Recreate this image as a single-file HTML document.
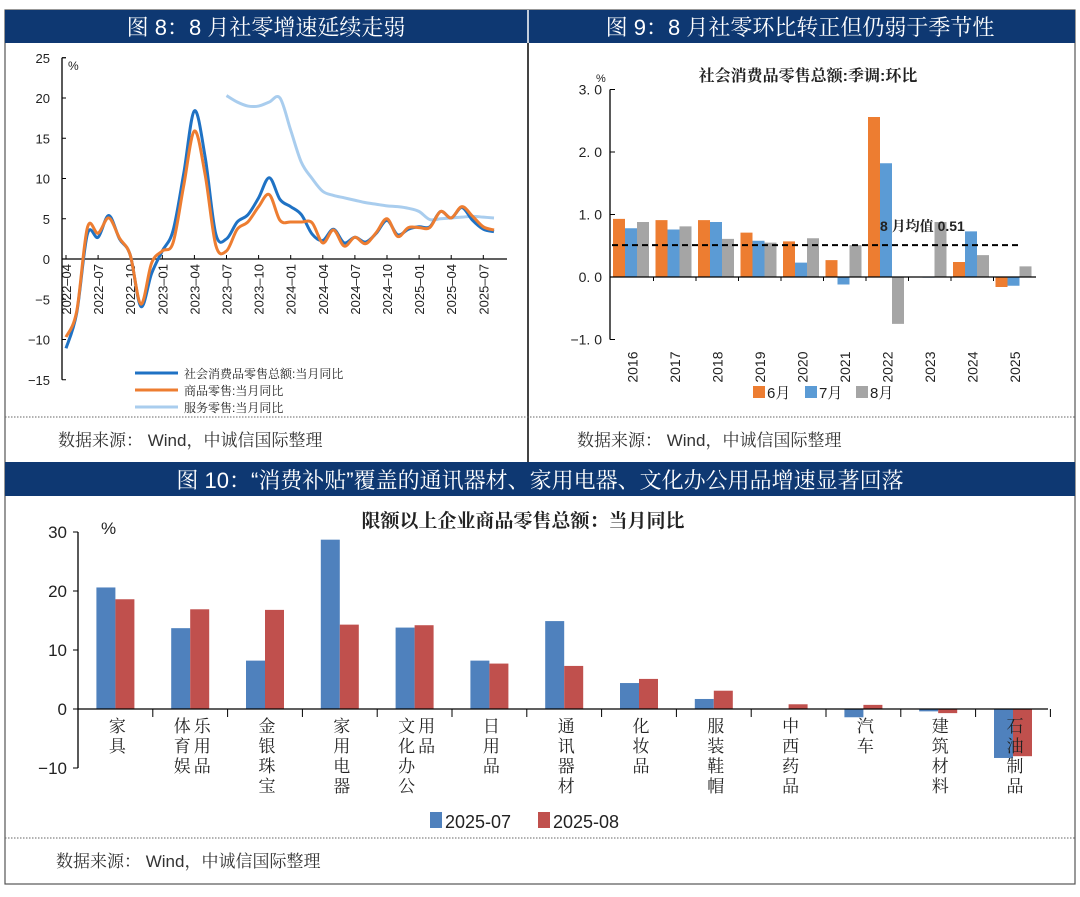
<!DOCTYPE html>
<html><head><meta charset="utf-8">
<style>
body{margin:0;background:#fff;width:1080px;height:892px;overflow:hidden;font-family:"Liberation Sans","Noto Sans CJK SC",sans-serif;}
svg text{font-family:"Liberation Sans","Noto Serif CJK SC","Noto Sans CJK SC",sans-serif;}
</style></head><body>
<svg id="root" width="1080" height="892" xmlns="http://www.w3.org/2000/svg">
  <!-- frames -->
  <rect x="5" y="10" width="1070" height="874" fill="none" stroke="#555" stroke-width="1.2"/>
  <line x1="528" y1="10" x2="528" y2="462" stroke="#444" stroke-width="2"/>
  <rect x="5" y="10" width="1070" height="33" fill="#0e3872"/>
  <line x1="528" y1="10" x2="528" y2="43" stroke="#fff" stroke-width="1.5"/>
  <text x="266" y="35" text-anchor="middle" font-size="22" fill="#fff">图 8：8 月社零增速延续走弱</text>
  <text x="800" y="35" text-anchor="middle" font-size="22" fill="#fff">图 9：8 月社零环比转正但仍弱于季节性</text>
  <line x1="5" y1="417" x2="1075" y2="417" stroke="#666" stroke-dasharray="1.5 1.5"/>
  <text x="58" y="446" font-size="17" fill="#333">数据来源：  Wind，中诚信国际整理</text>
  <text x="577" y="446" font-size="17" fill="#333">数据来源：  Wind，中诚信国际整理</text>
  <rect x="5" y="462" width="1070" height="34" fill="#0e3872"/>
  <text x="540" y="488" text-anchor="middle" font-size="22" fill="#fff">图 10：“消费补贴”覆盖的通讯器材、家用电器、文化办公用品增速显著回落</text>
  <line x1="5" y1="838" x2="1075" y2="838" stroke="#666" stroke-dasharray="1.5 1.5"/>
  <text x="56" y="867" font-size="17" fill="#333">数据来源：  Wind，中诚信国际整理</text>
  <g id="c1"></g><g id="c2"></g><g id="c3"></g>
</svg>
<script>
const NS="http://www.w3.org/2000/svg";
function mk(parent,tag,attrs,txt){const e=document.createElementNS(NS,tag);for(const k in attrs)e.setAttribute(k,attrs[k]);if(txt!==undefined)e.textContent=txt;parent.appendChild(e);return e;}

// ===== Chart 1 data =====
const c1Months=["2022-04","2022-05","2022-06","2022-07","2022-08","2022-09","2022-10","2022-11","2022-12","2023-01","2023-02","2023-03","2023-04","2023-05","2023-06","2023-07","2023-08","2023-09","2023-10","2023-11","2023-12","2024-01","2024-02","2024-03","2024-04","2024-05","2024-06","2024-07","2024-08","2024-09","2024-10","2024-11","2024-12","2025-01","2025-02","2025-03","2025-04","2025-05","2025-06","2025-07","2025-08"];
const c1Total=[-11.1,-6.7,3.1,2.7,5.4,2.5,0.5,-5.9,-1.8,1.0,3.5,10.6,18.4,12.7,3.1,2.5,4.6,5.5,7.6,10.1,7.4,6.5,5.5,3.1,2.3,3.7,2.0,2.7,2.1,3.2,4.8,3.0,3.7,4.0,4.0,5.9,5.1,6.4,4.8,3.7,3.4];
const c1Goods=[-9.7,-6.5,3.9,3.2,5.1,2.6,0.5,-5.6,-0.5,1.0,2.0,9.1,15.9,10.5,1.7,1.0,3.7,4.6,6.5,8.0,4.8,4.6,4.6,4.5,2.0,3.6,1.6,2.7,1.9,3.3,5.0,2.8,3.9,3.9,3.9,5.9,5.1,6.5,5.3,4.0,3.6];
const c1Services=[null,null,null,null,null,null,null,null,null,null,null,null,null,null,null,20.3,19.5,19.0,19.0,19.5,20.0,16.0,12.0,10.0,8.4,7.9,7.6,7.3,7.0,6.8,6.6,6.5,6.3,5.9,4.9,5.0,5.1,5.2,5.3,5.2,5.1];
const c1YTicks=[25,20,15,10,5,0,-5,-10,-15];
const c1XTicks=["2022-04","2022-07","2022-10","2023-01","2023-04","2023-07","2023-10","2024-01","2024-04","2024-07","2024-10","2025-01","2025-04","2025-07"];

(function(){
  const g=document.getElementById('c1');
  const x=i=>66+i*10.7, y=v=>259-v*8.05;
  c1YTicks.forEach(t=>{
    const tl=mk(g,'line',{x1:62,x2:66,y1:y(t),y2:y(t),stroke:'#000'});
    
    
    const lb=mk(g,'text',{x:50,y:y(t)+5,'text-anchor':'end','font-size':13,fill:'#222'},String(t).replace('-','−'));
    
    
  });
  const ax=mk(g,'line',{x1:62,x2:62,y1:y(25),y2:y(-15),stroke:'#000','stroke-width':1.3});
  
  
  mk(g,'line',{x1:62,x2:66,y1:y(25),y2:y(25),stroke:'#000'});
  const pc=mk(g,'text',{x:68,y:y(25)+12,'font-size':12,fill:'#222'},'%');
  
  
  const xa=mk(g,'line',{x1:62,x2:507,y1:y(0),y2:y(0),stroke:'#000','stroke-width':1.3});
  
  
  c1XTicks.forEach(m=>{
    const i=c1Months.indexOf(m), px=x(i);
    mk(g,'line',{x1:px,x2:px,y1:y(0),y2:y(0)-4,stroke:'#000'});
    const t=mk(g,'text',{x:0,y:0,'font-size':13,fill:'#222','text-anchor':'end',transform:`translate(${px+5},${y(0)+5}) rotate(-90)`},m.replace('-','–'));
    
    
  });
  function path(arr){
    const pts=[];arr.forEach((v,i)=>{if(v!==null)pts.push([x(i),y(v)]);});
    let d=`M${pts[0][0]},${pts[0][1]}`;
    for(let i=0;i<pts.length-1;i++){
      const p0=pts[i-1]||pts[i],p1=pts[i],p2=pts[i+1],p3=pts[i+2]||p2;
      const c1=[p1[0]+(p2[0]-p0[0])/6,p1[1]+(p2[1]-p0[1])/6],c2=[p2[0]-(p3[0]-p1[0])/6,p2[1]-(p3[1]-p1[1])/6];
      d+=` C${c1[0]},${c1[1]} ${c2[0]},${c2[1]} ${p2[0]},${p2[1]}`;
    }
    return d;
  }
  const s3=mk(g,'path',{d:path(c1Services),fill:'none',stroke:'#a9cdee','stroke-width':3});
  
  
  const s1=mk(g,'path',{d:path(c1Total),fill:'none',stroke:'#1f72c4','stroke-width':3});
  
  
  const s2=mk(g,'path',{d:path(c1Goods),fill:'none',stroke:'#ed7d31','stroke-width':3});
  
  
  const leg=[['社会消费品零售总额:当月同比','#1f72c4'],['商品零售:当月同比','#ed7d31'],['服务零售:当月同比','#a9cdee']];
  leg.forEach((l,k)=>{
    const yy=373+k*17;
    const li=mk(g,'line',{x1:135,x2:178,y1:yy,y2:yy,stroke:l[1],'stroke-width':3});
    
    
    const t=mk(g,'text',{x:184,y:yy+5,'font-size':12,fill:'#222'},l[0]);
    
    
  });
})();

// ===== Chart 2 data =====
const c2Years=["2016","2017","2018","2019","2020","2021","2022","2023","2024","2025"];
const c2Jun=[0.93,0.91,0.91,0.71,0.57,0.27,2.56,0.0,0.24,-0.16];
const c2Jul=[0.78,0.76,0.88,0.58,0.23,-0.12,1.82,-0.01,0.73,-0.14];
const c2Aug=[0.88,0.81,0.61,0.55,0.62,0.51,-0.75,0.88,0.35,0.17];
const c2Mean=[0.51];
const c2YTicks=[3.0,2.0,1.0,0.0,-1.0];

(function(){
  const g=document.getElementById('c2');
  const y=v=>277-v*62.5, gw=42.5, x0=611, bw=12;
  const tt=mk(g,'text',{x:808,y:81,'text-anchor':'middle','font-size':16,'font-weight':'bold',fill:'#222'},'社会消费品零售总额:季调:环比');
  
  
  c2YTicks.forEach(t=>{
    mk(g,'line',{x1:610,x2:615,y1:y(t),y2:y(t),stroke:'#000'});
    const lb=mk(g,'text',{x:602,y:y(t)+5,'text-anchor':'end','font-size':14,fill:'#222'},(t<0?'−':'')+Math.abs(t).toFixed(1).replace('.','. '));
    
    
  });
  const pu=mk(g,'text',{x:596,y:82,'font-size':11,fill:'#222'},'%');
  
  
  const ya=mk(g,'line',{x1:610,x2:610,y1:y(3),y2:y(-1),stroke:'#000','stroke-width':1.3});
  
  
  const series=[[c2Jun,'#ed7d31','jun'],[c2Jul,'#5b9bd5','jul'],[c2Aug,'#a5a5a5','aug']];
  c2Years.forEach((yr,i)=>{
    series.forEach((s,k)=>{
      const v=s[0][i], bx=x0+i*gw+2+k*bw;
      const r=mk(g,'rect',{x:bx,y:Math.min(y(v),y(0)),width:bw,height:Math.max(Math.abs(y(v)-y(0)),0.5),fill:s[1]});
      
      
    });
    const cx=x0+i*gw+gw/2;
    const t=mk(g,'text',{'font-size':14,fill:'#222','text-anchor':'end',transform:`translate(${cx+5},${y(-1)+12}) rotate(-90)`},yr);
    
    
    if(i>0)mk(g,'line',{x1:x0+i*gw,x2:x0+i*gw,y1:y(0),y2:y(0)+4,stroke:'#000'});
  });
  const xa=mk(g,'line',{x1:610,x2:1036,y1:y(0),y2:y(0),stroke:'#000','stroke-width':1.3});
  
  
  const ml=mk(g,'line',{x1:612,x2:1022,y1:y(c2Mean[0]),y2:y(c2Mean[0]),stroke:'#000','stroke-width':2,'stroke-dasharray':'6 4'});
  
  
  const ll=mk(g,'text',{x:880,y:231,'font-size':14,'font-weight':'bold',fill:'#222'},'8 月均值 0.51');
  
  
  [['6月','#ed7d31',753],['7月','#5b9bd5',805],['8月','#a5a5a5',856]].forEach(l=>{
    const r=mk(g,'rect',{x:l[2],y:386,width:12,height:12,fill:l[1]});
    
    
    const t=mk(g,'text',{x:l[2]+14,y:398,'font-size':15,fill:'#222'},l[0]);
    
    
  });
})();

// ===== Chart 3 data =====
const c3Cats=[["家具"],["体育娱","乐用品"],["金银珠宝"],["家用电器"],["文化办公","用品"],["日用品"],["通讯器材"],["化妆品"],["服装鞋帽"],["中西药品"],["汽车"],["建筑材料"],["石油制品"]];
const c3Jul=[20.6,13.7,8.2,28.7,13.8,8.2,14.9,4.4,1.7,0,-1.4,-0.4,-8.3];
const c3Aug=[18.6,16.9,16.8,14.3,14.2,7.7,7.3,5.1,3.1,0.8,0.7,-0.7,-8.0];
const c3YTicks=[30,20,10,0,-10];

(function(){
  const g=document.getElementById('c3');
  const y=v=>709-v*5.9, x0=78, gw=74.8, bw=19;
  const tt=mk(g,'text',{x:523,y:527,'text-anchor':'middle','font-size':19,'font-weight':'bold',fill:'#222'},'限额以上企业商品零售总额：当月同比');
  
  
  c3YTicks.forEach(t=>{
    mk(g,'line',{x1:73,x2:78,y1:y(t),y2:y(t),stroke:'#000'});
    const lb=mk(g,'text',{x:67,y:y(t)+6,'text-anchor':'end','font-size':17,fill:'#222'},String(t).replace('-','−'));
    
    
  });
  const pu=mk(g,'text',{x:101,y:534,'font-size':17,fill:'#222'},'%');
  
  
  const ya=mk(g,'line',{x1:78,x2:78,y1:y(30),y2:y(-10),stroke:'#000','stroke-width':1.3});
  
  
  c3Cats.forEach((c,i)=>{
    const cx=x0+i*gw+gw/2;
    [[c3Jul,'#4f81bd','jul'],[c3Aug,'#c0504d','aug']].forEach((s,k)=>{
      const v=s[0][i];
      const r=mk(g,'rect',{x:cx-bw+k*bw,y:Math.min(y(v),y(0)),width:bw,height:Math.max(Math.abs(y(v)-y(0)),0.3),fill:s[1]});
      
      
    });
    mk(g,'line',{x1:x0+(i+1)*gw,x2:x0+(i+1)*gw,y1:y(0),y2:y(0)+8,stroke:'#000'});
    c.forEach((line,j)=>{
      const t=mk(g,'text',{'font-size':17,fill:'#222','writing-mode':'tb','letter-spacing':'3',x:cx-(c.length-1)*10+j*20,y:y(0)+8},line);
      
      
    });
  });
  const xa=mk(g,'line',{x1:78,x2:1048,y1:y(0),y2:y(0),stroke:'#000','stroke-width':1.3});
  
  
  [['2025-07','#4f81bd',430],['2025-08','#c0504d',538]].forEach(l=>{
    const r=mk(g,'rect',{x:l[2],y:812,width:12,height:16,fill:l[1]});
    
    
    const t=mk(g,'text',{x:l[2]+15,y:828,'font-size':18,fill:'#222'},l[0]);
    
    
  });
})();
</script>
</body></html>
